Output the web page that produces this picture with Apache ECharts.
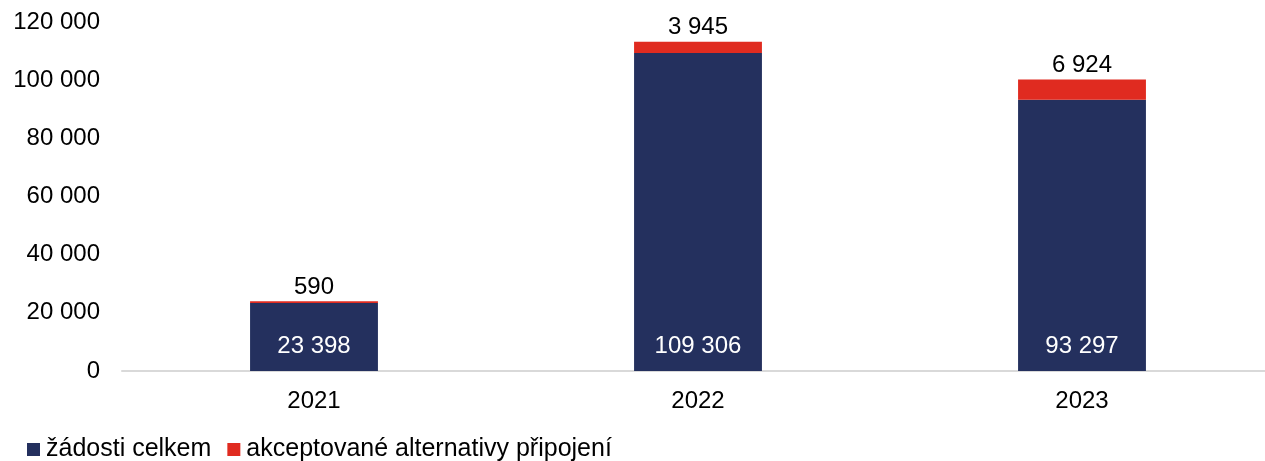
<!DOCTYPE html>
<html>
<head>
<meta charset="utf-8">
<script src="https://cdn.jsdelivr.net/npm/echarts@6/dist/echarts.min.js"></script>
<style>
  html, body { margin: 0; padding: 0; background: #fff; overflow: hidden; }
  /* o neco sirsi nez okno: osa x v originale pokracuje az za pravy okraj */
  #chart { width: 1275px; height: 461px; }
</style>
</head>
<body>
<div id="chart"></div>
<script>
// data
const years = ['2021', '2022', '2023'];
const zadosti = [23398, 109306, 93297];
const alternativy = [590, 3945, 6924];

// 23398 -> "23 398"
function fmt(v) {
    return String(v).replace(/\B(?=(\d{3})+(?!\d))/g, ' ');
}

const chart = echarts.init(document.getElementById('chart'));

const font = 'Liberation Sans, Arial, sans-serif';
const fs = 24;

const option = {
    backgroundColor: '#fff',
    animation: false,
    textStyle: { fontFamily: font },
    grid: {
        left: 122,
        right: 1,
        top: 22,
        bottom: 90,
        containLabel: false
    },
    legend: {
        left: 22,
        top: 432,
        itemWidth: 13,
        itemHeight: 13,
        itemGap: 16,
        icon: 'rect',
        textStyle: { fontSize: 25, color: '#000', fontFamily: font, padding: [0, 0, 0, 1] },
        data: ['žádosti celkem', 'akceptované alternativy připojení']
    },
    xAxis: {
        type: 'category',
        data: years,
        axisTick: { show: false },
        axisLine: { lineStyle: { color: '#d9d9d9', width: 2 } },
        axisLabel: { fontSize: fs, color: '#000', margin: 18, fontFamily: font }
    },
    yAxis: {
        type: 'value',
        min: 0,
        max: 120000,
        interval: 20000,
        splitLine: { show: false },
        axisLine: { show: false },
        axisTick: { show: false },
        axisLabel: {
            fontSize: fs,
            color: '#000',
            margin: 22,
            fontFamily: font,
            formatter: v => fmt(v)
        }
    },
    series: [
        {
            name: 'žádosti celkem',
            type: 'bar',
            stack: 'total',
            barWidth: '33.3%',
            data: zadosti,
            itemStyle: { color: '#24305e' },
            label: {
                show: true,
                position: 'insideBottom',
                distance: 13,
                color: '#fff',
                fontSize: fs,
                fontFamily: font,
                formatter: p => fmt(p.value)
            }
        },
        {
            name: 'akceptované alternativy připojení',
            type: 'bar',
            stack: 'total',
            data: alternativy,
            itemStyle: { color: '#e02b20' },
            label: {
                show: true,
                position: 'top',
                distance: 2,
                color: '#000',
                fontSize: fs,
                fontFamily: font,
                formatter: p => fmt(p.value)
            }
        }
    ]
};

chart.setOption(option);
</script>
</body>
</html>
